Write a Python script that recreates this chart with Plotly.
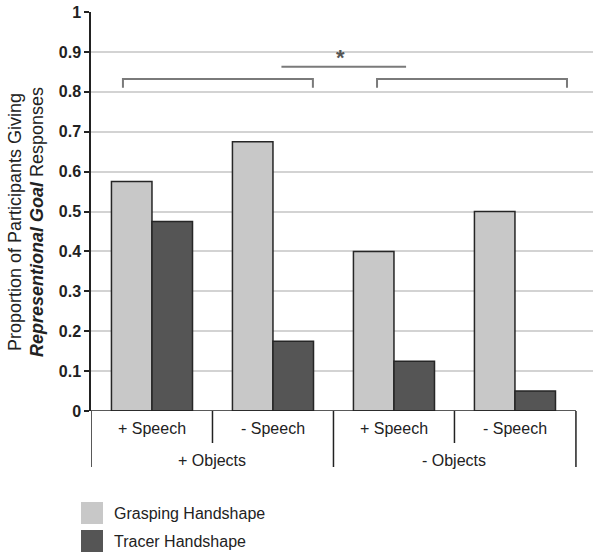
import plotly.graph_objects as go

categories = ["+ Speech (+ Obj)", "- Speech (+ Obj)", "+ Speech (- Obj)", "- Speech (- Obj)"]
speech_labels = ["+ Speech", "- Speech", "+ Speech", "- Speech"]
object_labels = ["+ Objects", "- Objects"]
grasping = [0.575, 0.675, 0.40, 0.50]
tracer = [0.475, 0.175, 0.125, 0.05]
series_names = ["Grasping Handshape", "Tracer Handshape"]
y_ticks = [0, 0.1, 0.2, 0.3, 0.4, 0.5, 0.6, 0.7, 0.8, 0.9, 1]
y_tick_labels = ["0", "0.1", "0.2", "0.3", "0.4", "0.5", "0.6", "0.7", "0.8", "0.9", "1"]
title_lines = ["Proportion of Participants Giving", "<b><i>Representional Goal</i></b> Responses"]

x = list(range(len(categories)))
fill_colors = ["#c8c8c8", "#555555"]
edge = "#262626"

# plot area in pixels
PL, PR, PT, PB = 91, 593, 12, 411
PW, PH = PR - PL, PB - PT


def px(sx):
    return (sx - PL) / PW


def py(sy):
    return (PB - sy) / PH


fig = go.Figure()
for name, vals, col in zip(series_names, [grasping, tracer], fill_colors):
    fig.add_trace(go.Bar(x=x, y=vals, name=name, marker=dict(color=col, line=dict(color=edge, width=1.5)),
                         showlegend=False))

fig.update_layout(
    width=600, height=559,
    margin=dict(l=PL, r=600 - PR, t=PT, b=559 - PB, autoexpand=False),
    plot_bgcolor="white", paper_bgcolor="white",
    barmode="group", bargap=0.33, bargroupgap=0,
    font=dict(family="Liberation Sans, Arial, sans-serif", color="#222"),
    xaxis=dict(range=[-0.504, 3.645], showticklabels=False, showgrid=False, zeroline=False,
               showline=False, ticks=""),
    yaxis=dict(range=[0, 1], tickvals=y_ticks, ticktext=["<b>%s</b>" % t for t in y_tick_labels],
               showgrid=True, gridcolor="#d3d3d3", gridwidth=1.5, zeroline=False,
               showline=True, linecolor="#222", linewidth=1.5, ticks="outside", ticklen=5,
               tickcolor="#222", tickwidth=1.5, tickfont=dict(size=16, color="#222"),
               ticklabeloverflow="allow"),
)

shapes = []
shapes.append(dict(type="line", xref="x", yref="y", x0=-0.504, x1=3.504, y0=0, y1=0,
                   line=dict(color="#222", width=1.5)))
for b in [-0.504, 0.5, 1.5, 2.5, 3.504]:
    major = b in (-0.504, 1.5, 3.504)
    shapes.append(dict(type="line", xref="x", yref="paper", x0=b, x1=b, y0=0,
                       y1=py(467) if major else py(443),
                       line=dict(color="#222", width=1.5)))
gcol = "#7a7a7a"
for x0, x1 in [(-0.24, 1.33), (1.86, 3.43)]:
    shapes.append(dict(type="path", xref="x", yref="y",
                       path=f"M {x0},0.81 L {x0},0.832 L {x1},0.832 L {x1},0.81",
                       line=dict(color=gcol, width=2)))
shapes.append(dict(type="line", xref="x", yref="y", x0=1.07, x1=2.10, y0=0.863, y1=0.863,
                   line=dict(color=gcol, width=2)))
for i, col in enumerate(fill_colors):
    top = 502 + i * 28
    shapes.append(dict(type="rect", xref="paper", yref="paper",
                       x0=px(81), x1=px(103), y0=py(top + 22), y1=py(top),
                       fillcolor=col, line=dict(width=0)))
fig.update_layout(shapes=shapes)

ann = []
for i, lab in enumerate(speech_labels):
    ann.append(dict(x=i, y=py(429), xref="x", yref="paper", text=lab, showarrow=False,
                    font=dict(size=16, color="#222"), yanchor="middle"))
for i, lab in enumerate(object_labels):
    ann.append(dict(x=0.5 + 2 * i, y=py(461), xref="x", yref="paper", text=lab, showarrow=False,
                    font=dict(size=16, color="#222"), yanchor="middle"))
ann.append(dict(x=1.56, y=0.885, xref="x", yref="y", text="<b>*</b>", showarrow=False,
                font=dict(size=22, color="#555"), yanchor="middle"))
for i, name in enumerate(series_names):
    ann.append(dict(x=px(112), y=py(513 + i * 28), xref="paper", yref="paper",
                    text=name, showarrow=False, xanchor="left", yanchor="middle",
                    font=dict(size=16, color="#222")))
for lx, line in zip([15, 37], title_lines):
    ann.append(dict(x=px(lx), y=py(222), xref="paper", yref="paper",
                    text=line, showarrow=False, textangle=-90, xanchor="center", yanchor="middle",
                    font=dict(size=18, color="#222")))
fig.update_layout(annotations=ann)

fig.write_html("out.html", config={"displayModeBar": False},
               post_script="document.body.style.margin='0';")
